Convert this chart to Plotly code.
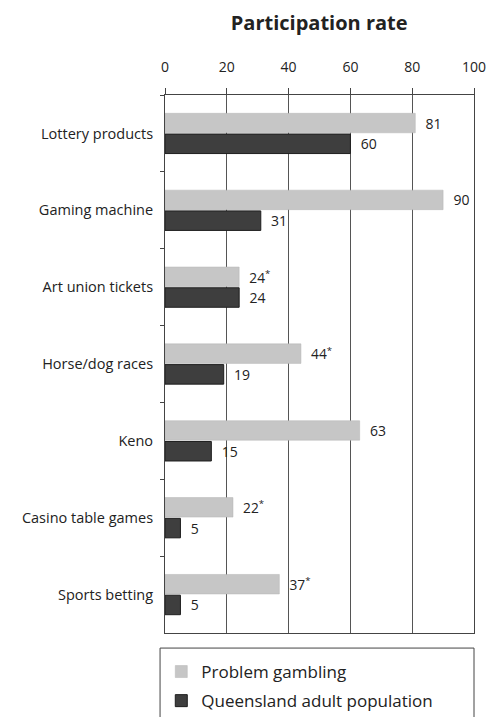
import plotly.graph_objects as go

categories = ["Lottery products", "Gaming machine", "Art union tickets",
              "Horse/dog races", "Keno", "Casino table games", "Sports betting"]
problem_gambling = [81, 90, 24, 44, 63, 22, 37]
problem_flags = ["", "", "*", "*", "", "*", "*"]
qld_adult = [60, 31, 24, 19, 15, 5, 5]
x_ticks = [0, 20, 40, 60, 80, 100]

FONT = "Open Sans"
light = "#c6c6c6"
dark = "#3e3e3e"
PAD = "\u00a0\u00a0"  # small gap between bar end and its value

fig = go.Figure()
fig.add_trace(go.Bar(
    y=categories, x=problem_gambling, orientation="h",
    name="Problem gambling", legendgroup="pg",
    marker=dict(color=light, line=dict(color="#b4b4b4", width=0.5)),
    text=[f"{PAD}{v}<sup>{f}</sup>" if f else f"{PAD}{v}"
          for v, f in zip(problem_gambling, problem_flags)],
    textposition="outside", cliponaxis=False,
    textfont=dict(family=FONT, size=14, color="#222"),
))
fig.add_trace(go.Bar(
    y=categories, x=qld_adult, orientation="h",
    name="Queensland adult population", legendgroup="qld",
    marker=dict(color=dark, line=dict(color="#1e1e1e", width=1)),
    text=[f"{PAD}{v}" for v in qld_adult],
    textposition="outside", cliponaxis=False,
    textfont=dict(family=FONT, size=14, color="#222"),
))

# box around the legend
fig.add_shape(type="rect", xref="paper", yref="paper",
              x0=-0.016, x1=1.0, y0=-0.2, y1=-0.028,
              line=dict(color="#444", width=1), fillcolor="white", layer="below")

fig.update_layout(
    width=491, height=717,
    margin=dict(l=165, r=17, t=95, b=84, autoexpand=False),
    paper_bgcolor="white", plot_bgcolor="white",
    barmode="group", bargap=0.46, bargroupgap=0.06,
    font=dict(family=FONT, size=14, color="#222"),
    title=dict(text="<b>Participation rate</b>", x=0.65, xanchor="center",
               y=0.968, yanchor="middle", font=dict(family=FONT, size=20, color="#222")),
    xaxis=dict(side="top", range=[0, 100], tickvals=x_ticks,
               showgrid=True, gridcolor="#555", gridwidth=1,
               showline=True, linecolor="#444", linewidth=1, mirror=True,
               ticks="outside", ticklen=6, tickcolor="#444",
               ticklabelstandoff=10, zeroline=False, automargin=False,
               ticklabeloverflow="allow",
               tickfont=dict(family=FONT, size=14, color="#222")),
    yaxis=dict(autorange="reversed", showline=True, linecolor="#444", linewidth=1,
               mirror=True, ticks="outside", tickson="boundaries", ticklen=4,
               tickcolor="#444", ticklabelstandoff=8, automargin=False,
               tickfont=dict(family=FONT, size=14.5, color="#222")),
    legend=dict(x=-0.012, y=-0.039, xanchor="left", yanchor="top",
                bgcolor="rgba(0,0,0,0)", font=dict(family=FONT, size=17, color="#222"),
                traceorder="grouped", tracegroupgap=4),
    showlegend=True,
)

fig.write_html("out.html")
